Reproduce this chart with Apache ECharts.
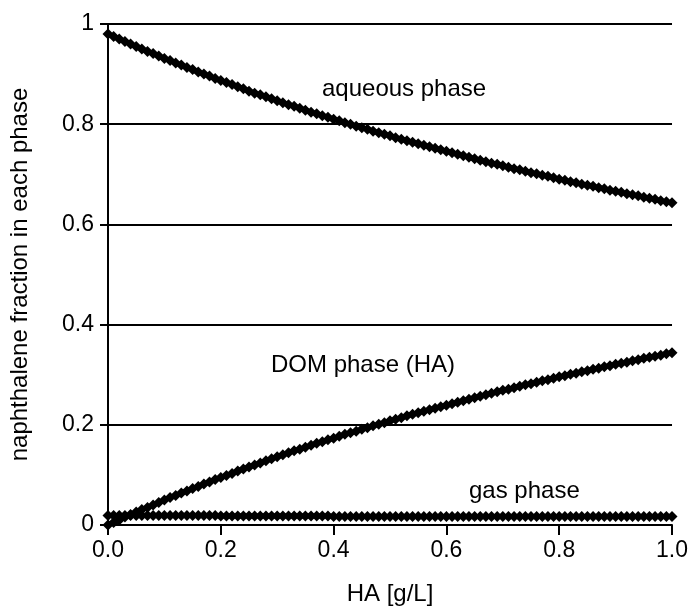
<!DOCTYPE html>
<html>
<head>
<meta charset="utf-8">
<script src="https://cdn.jsdelivr.net/npm/echarts@6/dist/echarts.min.js"></script>
<style>
  html, body { margin: 0; padding: 0; background: #fff; }
  #chart { width: 691px; height: 613px; }
</style>
</head>
<body>
<div id="chart"></div>
<script>
// HA concentration [g/L], step 0.01
const haValues = [
  0.00, 0.01, 0.02, 0.03, 0.04, 0.05, 0.06, 0.07, 0.08, 0.09,
  0.10, 0.11, 0.12, 0.13, 0.14, 0.15, 0.16, 0.17, 0.18, 0.19,
  0.20, 0.21, 0.22, 0.23, 0.24, 0.25, 0.26, 0.27, 0.28, 0.29,
  0.30, 0.31, 0.32, 0.33, 0.34, 0.35, 0.36, 0.37, 0.38, 0.39,
  0.40, 0.41, 0.42, 0.43, 0.44, 0.45, 0.46, 0.47, 0.48, 0.49,
  0.50, 0.51, 0.52, 0.53, 0.54, 0.55, 0.56, 0.57, 0.58, 0.59,
  0.60, 0.61, 0.62, 0.63, 0.64, 0.65, 0.66, 0.67, 0.68, 0.69,
  0.70, 0.71, 0.72, 0.73, 0.74, 0.75, 0.76, 0.77, 0.78, 0.79,
  0.80, 0.81, 0.82, 0.83, 0.84, 0.85, 0.86, 0.87, 0.88, 0.89,
  0.90, 0.91, 0.92, 0.93, 0.94, 0.95, 0.96, 0.97, 0.98, 0.99,
  1.00
];

// naphthalene fraction in the aqueous phase
const aqueousValues = [
  0.980, 0.975, 0.970, 0.965, 0.960, 0.955, 0.950, 0.945, 0.941, 0.936,
  0.931, 0.927, 0.922, 0.918, 0.913, 0.909, 0.904, 0.900, 0.896, 0.891,
  0.887, 0.883, 0.879, 0.875, 0.871, 0.866, 0.862, 0.859, 0.855, 0.851,
  0.847, 0.843, 0.839, 0.836, 0.832, 0.828, 0.824, 0.821, 0.817, 0.814,
  0.810, 0.807, 0.803, 0.800, 0.796, 0.793, 0.790, 0.786, 0.783, 0.780,
  0.777, 0.773, 0.770, 0.767, 0.764, 0.761, 0.758, 0.755, 0.752, 0.749,
  0.746, 0.743, 0.740, 0.737, 0.734, 0.731, 0.728, 0.725, 0.722, 0.720,
  0.717, 0.714, 0.711, 0.709, 0.706, 0.703, 0.701, 0.698, 0.696, 0.693,
  0.690, 0.688, 0.685, 0.683, 0.680, 0.678, 0.676, 0.673, 0.671, 0.668,
  0.666, 0.664, 0.661, 0.659, 0.657, 0.654, 0.652, 0.650, 0.647, 0.645,
  0.643
];

// naphthalene fraction bound to DOM (HA)
const domValues = [
  0.000, 0.005, 0.010, 0.016, 0.021, 0.026, 0.031, 0.035, 0.040, 0.045,
  0.050, 0.055, 0.059, 0.064, 0.068, 0.073, 0.077, 0.082, 0.086, 0.091,
  0.095, 0.099, 0.103, 0.108, 0.112, 0.116, 0.120, 0.124, 0.128, 0.132,
  0.136, 0.140, 0.144, 0.148, 0.151, 0.155, 0.159, 0.163, 0.166, 0.170,
  0.173, 0.177, 0.181, 0.184, 0.187, 0.191, 0.194, 0.198, 0.201, 0.204,
  0.208, 0.211, 0.214, 0.218, 0.221, 0.224, 0.227, 0.230, 0.233, 0.236,
  0.239, 0.242, 0.245, 0.248, 0.251, 0.254, 0.257, 0.260, 0.263, 0.266,
  0.269, 0.271, 0.274, 0.277, 0.280, 0.282, 0.285, 0.288, 0.290, 0.293,
  0.296, 0.298, 0.301, 0.303, 0.306, 0.308, 0.311, 0.313, 0.316, 0.318,
  0.321, 0.323, 0.325, 0.328, 0.330, 0.333, 0.335, 0.337, 0.339, 0.342,
  0.344
];

// naphthalene fraction in the gas phase
const gasValues = [
  0.019, 0.019, 0.019, 0.019, 0.019, 0.019, 0.019, 0.019, 0.019, 0.019,
  0.019, 0.019, 0.019, 0.019, 0.019, 0.019, 0.019, 0.019, 0.019, 0.019,
  0.018, 0.018, 0.018, 0.018, 0.018, 0.018, 0.018, 0.018, 0.018, 0.018,
  0.018, 0.018, 0.018, 0.018, 0.018, 0.018, 0.018, 0.018, 0.018, 0.018,
  0.017, 0.017, 0.017, 0.017, 0.017, 0.017, 0.017, 0.017, 0.017, 0.017,
  0.017, 0.017, 0.017, 0.017, 0.017, 0.017, 0.017, 0.017, 0.017, 0.017,
  0.017, 0.017, 0.017, 0.017, 0.017, 0.017, 0.017, 0.017, 0.017, 0.017,
  0.017, 0.017, 0.017, 0.017, 0.017, 0.017, 0.017, 0.017, 0.017, 0.017,
  0.017, 0.017, 0.017, 0.017, 0.017, 0.017, 0.017, 0.017, 0.017, 0.017,
  0.017, 0.017, 0.017, 0.017, 0.017, 0.017, 0.017, 0.017, 0.017, 0.017,
  0.017
];

const FONT = "'Liberation Sans', Arial, sans-serif";
const TICK_SIZE = 23;
const TEXT_SIZE = 24;

const pairs = (ys) => haValues.map((x, i) => [x, ys[i]]);

const phaseSeries = (name, ys) => ({
  name,
  type: "line",
  data: pairs(ys),
  symbol: "diamond",
  symbolSize: 11,
  showAllSymbol: true,
  clip: false,
  itemStyle: { color: "#000" },
  lineStyle: { color: "#000", width: 5 },
  emphasis: { disabled: true },
  z: 3,
});

const chart = echarts.init(document.getElementById("chart"));

chart.setOption({
  animation: false,
  backgroundColor: "#fff",
  textStyle: { fontFamily: FONT },
  grid: { left: 106, right: 16, top: 24, bottom: 88 },
  xAxis: {
    type: "value",
    min: 0,
    max: 1,
    interval: 0.2,
    name: "HA [g/L]",
    nameLocation: "middle",
    nameGap: 57,
    nameTextStyle: { color: "#000", fontSize: TEXT_SIZE, fontFamily: FONT },
    axisLine: { show: true, lineStyle: { color: "#000", width: 2 } },
    axisTick: { show: true, length: 10, lineStyle: { color: "#000", width: 2 } },
    axisLabel: {
      color: "#000",
      fontSize: TICK_SIZE,
      fontFamily: FONT,
      margin: 14,
      formatter: (v) => v.toFixed(1),
    },
    splitLine: { show: false },
  },
  yAxis: {
    type: "value",
    min: 0,
    max: 1,
    interval: 0.2,
    name: "naphthalene fraction in each phase",
    nameLocation: "middle",
    nameGap: 76,
    nameTextStyle: { color: "#000", fontSize: TEXT_SIZE, fontFamily: FONT },
    axisLine: { show: true, lineStyle: { color: "#000", width: 2 } },
    axisTick: { show: true, length: 8, lineStyle: { color: "#000", width: 2 } },
    axisLabel: { color: "#000", fontSize: TICK_SIZE, fontFamily: FONT, margin: 14 },
    splitLine: { show: true, lineStyle: { color: "#000", width: 2 } },
  },
  graphic: [
    { type: "text", left: 322, top: 77, style: { text: "aqueous phase", fill: "#000", font: TEXT_SIZE + "px " + FONT } },
    { type: "text", left: 271, top: 353, style: { text: "DOM phase (HA)", fill: "#000", font: TEXT_SIZE + "px " + FONT } },
    { type: "text", left: 469, top: 479, style: { text: "gas phase", fill: "#000", font: TEXT_SIZE + "px " + FONT } },
  ],
  series: [
    phaseSeries("aqueous phase", aqueousValues),
    phaseSeries("DOM phase (HA)", domValues),
    phaseSeries("gas phase", gasValues),
  ],
});
</script>
</body>
</html>
